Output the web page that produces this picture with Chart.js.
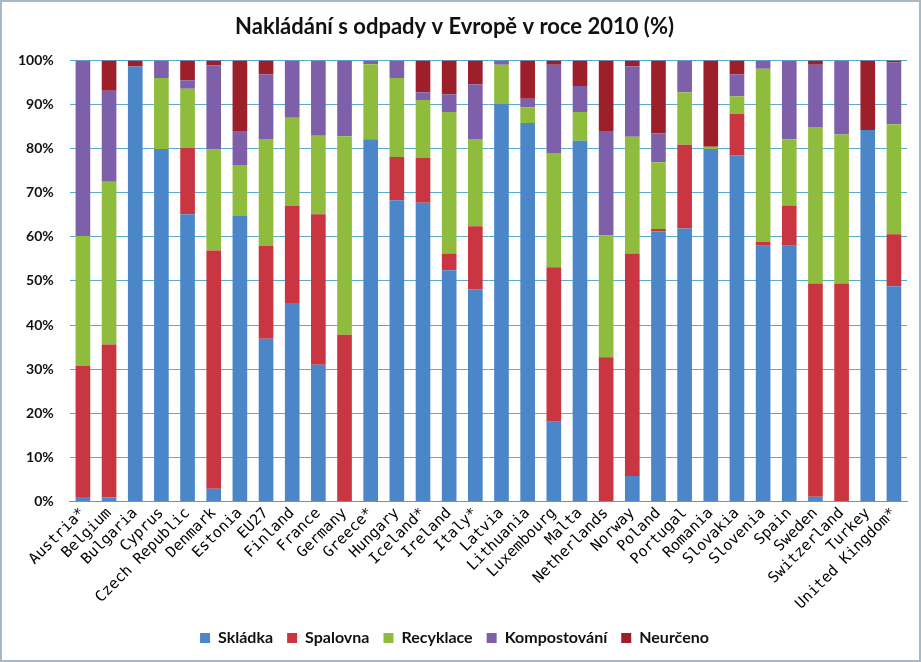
<!DOCTYPE html>
<html><head><meta charset="utf-8">
<script src="https://cdn.jsdelivr.net/npm/chart.js@4/dist/chart.umd.min.js"></script>
<style>
html,body{margin:0;padding:0;background:#fff;}
#wrap{position:absolute;left:0;top:0;width:917px;height:658px;border:2px solid #a9b8c6;background:#fff;}
canvas{display:block;}
</style></head><body>
<div id="wrap"><canvas id="c" width="917" height="658"></canvas></div>
<script>
const categories = ["Austria*","Belgium","Bulgaria","Cyprus","Czech Republic","Denmark","Estonia","EU27","Finland","France","Germany","Greece*","Hungary","Iceland*","Ireland","Italy*","Latvia","Lithuania","Luxembourg","Malta","Netherlands","Norway","Poland","Portugal","Romania","Slovakia","Slovenia","Spain","Sweden","Switzerland","Turkey","United Kingdom*"];
const skladka      = [1.0,0.9,98.6,79.9,65.1,2.9,64.7,36.9,45.0,31.0,0,82.1,68.3,67.7,52.4,48.1,90.1,85.8,18.1,81.8,0,5.8,61.2,61.9,79.9,78.5,58.0,58.0,1.1,0,84.2,48.8];
const spalovna     = [29.7,34.7,0,0,15.1,54.0,0,21.1,22.0,34.1,37.8,0,9.8,10.2,3.8,14.3,0,0,35.0,0,32.7,50.4,0.6,19.0,0,9.4,0.9,9.1,48.3,49.4,0,11.8];
const recyklace    = [29.5,36.9,0,16.1,13.4,22.9,11.6,24.2,20.0,17.8,45.0,17.0,17.9,13.1,32.1,19.8,8.9,3.6,25.9,6.5,27.6,26.5,15.1,11.9,0.5,4.0,39.2,15.0,35.5,33.8,0,24.9];
const kompostovani = [39.8,20.6,0,4.0,1.9,19.1,7.5,14.6,13.0,17.1,17.2,0.9,4.0,1.8,4.0,12.4,1.0,1.9,20.0,5.9,23.5,16.0,6.5,7.2,0,4.9,1.9,17.9,14.1,16.8,0,14.0];
const neurceno     = [0,6.9,1.4,0,4.5,1.1,16.2,3.2,0,0,0,0,0,7.2,7.7,5.4,0,8.7,1.0,5.8,16.2,1.3,16.6,0,19.6,3.2,0,0,1.0,0,15.8,0.5];
const seriesNames  = ["Skládka","Spalovna","Recyklace","Kompostování","Neurčeno"];
const yTicks       = [0,10,20,30,40,50,60,70,80,90,100];

const colors = ["#4a86c8","#c93540","#8fbc3c","#7e5fa9","#9c1f2a"];
const values = [skladka,spalovna,recyklace,kompostovani,neurceno];

new Chart(document.getElementById('c'), {
  type: 'bar',
  data: {
    labels: categories,
    datasets: seriesNames.map((n,i)=>({
      label: n, data: values[i], backgroundColor: colors[i],
      borderWidth: 0, barPercentage: 0.56, categoryPercentage: 1.0
    }))
  },
  options: {
    responsive: false, animation: false,
    layout: {padding: {left: 0, right: 12, top: 4, bottom: 4}},
    plugins: {
      title: {display: true, text: 'Nakládání s odpady v Evropě v roce 2010 (%)',
        color: '#111', font: {family: 'Lato', size: 22, weight: 'bold'}, padding: {top: 8, bottom: 20}},
      legend: {position: 'bottom',
        labels: {boxWidth: 10, boxHeight: 10, color: '#111', padding: 14,
          font: {family: 'Lato', size: 16, weight: 'bold'}}},
      tooltip: {enabled: false}
    },
    scales: {
      x: {stacked: true,
        grid: {display: false, drawTicks: false},
        border: {display: true, color: '#4aa3cf', width: 1},
        ticks: {autoSkip: false, maxRotation: 45, minRotation: 45, color: '#000', padding: 3,
          font: {family: 'DejaVu Sans Mono', size: 15}}},
      y: {stacked: true, min: 0, max: 100,
        afterBuildTicks: ax => { ax.ticks = yTicks.map(v=>({value:v})); },
        grid: {color: '#5aaad2', drawTicks: false},
        border: {display: false},
        ticks: {color: '#111', padding: 16, callback: v => v + '%',
          font: {family: 'Lato', size: 14, weight: 'bold'}}}
    }
  }
});
</script></body></html>
